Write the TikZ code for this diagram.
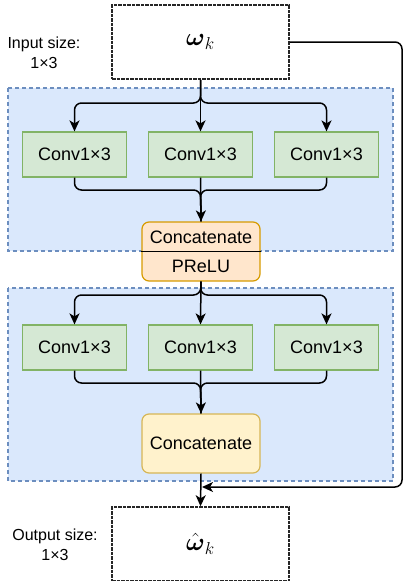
\documentclass[tikz,border=0pt]{standalone}
\usepackage{amsmath}
\usepackage{fontspec}
\setmainfont{Liberation Sans}
\usetikzlibrary{arrows.meta, calc}
\definecolor{regfill}{HTML}{DAE8FC}
\definecolor{regline}{HTML}{6C8EBF}
\definecolor{convfill}{HTML}{D5E8D4}
\definecolor{convline}{HTML}{82B366}
\definecolor{catfill}{HTML}{FFE6CC}
\definecolor{catline}{HTML}{D79B00}
\definecolor{cattwofill}{HTML}{FFF2CC}
\definecolor{cattwoline}{HTML}{D6B656}
\tikzstyle{region} = [draw=regline, fill=regfill, line width=1.2pt, dash pattern=on 4pt off 3pt]
\tikzstyle{iobox} = [rectangle, minimum width=177pt, minimum height=74pt, draw=black!85, line width=1.5pt, dash pattern=on 3.5pt off 1pt, fill=white]
\tikzstyle{conv} = [rectangle, minimum width=104pt, minimum height=45pt, text centered, draw=convline, fill=convfill, line width=1.2pt, font=\fontsize{18}{21}\selectfont]
\tikzstyle{concat} = [rectangle, rounded corners=7pt, minimum width=118pt, minimum height=59pt, align=center, line width=1.2pt, font=\fontsize{18}{21}\selectfont]
\tikzstyle{sizelabel} = [align=center, font=\fontsize{16}{20}\selectfont]
\tikzstyle{arrow} = [line width=1.5pt, rounded corners=7pt, -{Stealth[length=11pt, width=10pt, inset=3pt]}]
\tikzstyle{link} = [line width=1.5pt, rounded corners=7pt]

\begin{document}
\begin{tikzpicture}[x=1pt, y=-1pt, node distance=126pt]
    \useasboundingbox (0,0) rectangle (404,581);

    % Blocks
    \draw [region] (8,88) rectangle (393,251);
    \draw [region] (8,288) rectangle (393,481);

    % Nodes
    \node (input) [iobox] at (200.5,42) {\fontsize{24}{28}\selectfont$\boldsymbol{\omega}_k$};
    \node (insize) [sizelabel] at (44,53) {Input size:\\1×3};
    \node (convb) [conv] at (200.5,154.5) {Conv1×3};
    \node (conva) [conv, left of=convb] {Conv1×3};
    \node (convc) [conv, right of=convb] {Conv1×3};
    \node (catprelu) [concat, draw=catline, fill=catfill] at (201,251.5) {Concatenate\\[8pt]PReLU};
    \node (conve) [conv] at (200.5,347.5) {Conv1×3};
    \node (convd) [conv, left of=conve] {Conv1×3};
    \node (convf) [conv, right of=conve] {Conv1×3};
    \node (cat) [concat, draw=cattwoline, fill=cattwofill] at (201,443.5) {Concatenate};
    \node (output) [iobox] at (200.5,544) {\fontsize{24}{28}\selectfont$\hat{\boldsymbol{\omega}}_k$};
    \node (outsize) [sizelabel] at (55,545) {Output size:\\1×3};
    \draw [line width=1.2pt] (catprelu.west) -- (catprelu.east);

    % Helper points
    \coordinate (fork1) at (200.5,103);
    \coordinate (merge1) at (200.5,190);
    \coordinate (fork2) at (200.5,295);
    \coordinate (merge2) at (200.5,383);
    \coordinate (skipa) at (402,42);
    \coordinate (skipb) at (402,487);
    \coordinate (skipc) at (202,487);

    % Arrows
    \draw [arrow] (input.south) -- (convb.north);
    \draw [arrow] (input.south) -- (fork1) -| (conva.north);
    \draw [arrow] (input.south) -- (fork1) -| (convc.north);
    \draw [link] (conva.south) |- (merge1) -- (catprelu.north);
    \draw [link] (convc.south) |- (merge1) -- (catprelu.north);
    \draw [arrow] (convb.south) -- (catprelu.north);

    \draw [arrow] (catprelu.south) -- (conve.north);
    \draw [arrow] (catprelu.south) -- (fork2) -| (convd.north);
    \draw [arrow] (catprelu.south) -- (fork2) -| (convf.north);
    \draw [link] (convd.south) |- (merge2) -- (cat.north);
    \draw [link] (convf.south) |- (merge2) -- (cat.north);
    \draw [arrow] (conve.south) -- (cat.north);

    \draw [arrow] (cat.south) -- (output.north);

    % Skip path
    \draw [arrow] (input.east) -- (skipa) -- (skipb) -- (skipc);

\end{tikzpicture}
\end{document}
